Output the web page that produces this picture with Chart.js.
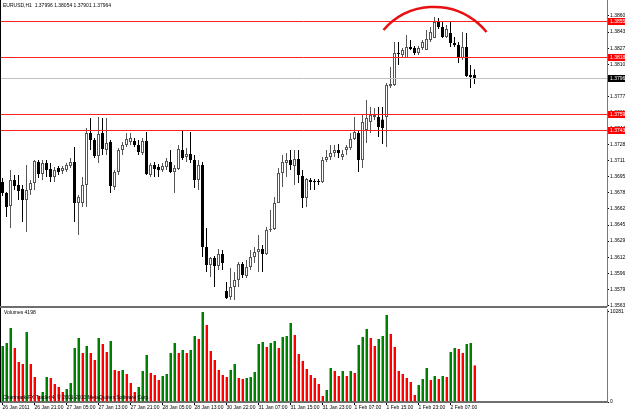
<!DOCTYPE html>
<html>
<head>
<meta charset="utf-8">
<script src="https://cdn.jsdelivr.net/npm/chart.js@4.4.1/dist/chart.umd.min.js"></script>
<style>
  html, body { margin: 0; padding: 0; background: #fff; }
  #wrap { position: relative; width: 625px; height: 412px; overflow: hidden; }
  #priceBox { position: absolute; left: 0; top: 0; }
  #volBox { position: absolute; left: 0; top: 308px; }
</style>
</head>
<body>
<div id="wrap">
  <div id="priceBox"><canvas id="priceChart" width="625" height="308"></canvas></div>
  <div id="volBox"><canvas id="volChart" width="625" height="104"></canvas></div>
</div>
<script>
// EURUSD H1 candles, 26 Jan 2011 - 2 Feb 2011
const open = [
  1.36897, 1.36784, 1.36650, 1.36917, 1.36866, 1.36825, 1.36712, 1.36815, 1.36886, 1.37102,
  1.36979, 1.37092, 1.37030, 1.36948, 1.37040, 1.37010, 1.37020, 1.37061, 1.37102, 1.36681,
  1.36681, 1.36866, 1.37399, 1.37328, 1.37163, 1.37399, 1.37225, 1.37307, 1.36845, 1.36999,
  1.37225, 1.37276, 1.37307, 1.37317, 1.37276, 1.37194, 1.37317, 1.36969, 1.37071, 1.37051,
  1.37020, 1.37051, 1.37102, 1.36999, 1.37030, 1.37225, 1.37153, 1.37184, 1.37122, 1.36917,
  1.37071, 1.36230, 1.36045, 1.36117, 1.36035, 1.36158, 1.35778, 1.35717, 1.35819, 1.35891,
  1.36055, 1.35932, 1.36025, 1.36127, 1.36178, 1.36209, 1.36158, 1.36404, 1.36414, 1.36681,
  1.36989, 1.37092, 1.37122, 1.37061, 1.37133, 1.36958, 1.36733, 1.36917, 1.36907, 1.36907,
  1.36897, 1.37122, 1.37153, 1.37194, 1.37225, 1.37153, 1.37225, 1.37246, 1.37338, 1.37399,
  1.37122, 1.37430, 1.37512, 1.37564, 1.37564, 1.37538, 1.37564, 1.37882, 1.37892, 1.38220,
  1.38200, 1.38169, 1.38282, 1.38272, 1.38220, 1.38272, 1.38251, 1.38354, 1.38374, 1.38538,
  1.38487, 1.38384, 1.38425, 1.38323, 1.38302, 1.38169, 1.38282, 1.37995, 1.37996
];
const high = [
  1.36938, 1.36794, 1.37020, 1.36969, 1.36969, 1.36866, 1.37071, 1.36917, 1.37122, 1.37122,
  1.37122, 1.37122, 1.37092, 1.37051, 1.37061, 1.37061, 1.37092, 1.37143, 1.37256, 1.36763,
  1.36948, 1.37451, 1.37553, 1.37348, 1.37564, 1.37553, 1.37553, 1.37328, 1.37020, 1.37246,
  1.37307, 1.37399, 1.37399, 1.37348, 1.37328, 1.37348, 1.37410, 1.37092, 1.37102, 1.37081,
  1.37092, 1.37143, 1.37225, 1.37071, 1.37276, 1.37430, 1.37246, 1.37410, 1.37174, 1.37122,
  1.37102, 1.36425, 1.36127, 1.36137, 1.36209, 1.36199, 1.35871, 1.36014, 1.35973, 1.36076,
  1.36076, 1.36096, 1.36199, 1.36230, 1.36353, 1.36250, 1.36435, 1.36609, 1.36743, 1.37040,
  1.37174, 1.37194, 1.37225, 1.37225, 1.37225, 1.37020, 1.36938, 1.36938, 1.36927, 1.36927,
  1.37153, 1.37225, 1.37276, 1.37276, 1.37287, 1.37225, 1.37276, 1.37399, 1.37564, 1.37430,
  1.37584, 1.37738, 1.37666, 1.37656, 1.37666, 1.37666, 1.37912, 1.38077, 1.38333, 1.38333,
  1.38272, 1.38405, 1.38354, 1.38292, 1.38292, 1.38354, 1.38456, 1.38487, 1.38590, 1.38579,
  1.38538, 1.38508, 1.38538, 1.38384, 1.38333, 1.38436, 1.38425, 1.38097, 1.38054
];
const low = [
  1.36753, 1.36538, 1.36425, 1.36815, 1.36712, 1.36486, 1.36384, 1.36763, 1.36815, 1.36938,
  1.36917, 1.36948, 1.36897, 1.36897, 1.36969, 1.36979, 1.36999, 1.37040, 1.36486, 1.36353,
  1.36640, 1.36640, 1.37225, 1.37143, 1.37092, 1.37174, 1.37174, 1.36784, 1.36815, 1.36969,
  1.37174, 1.37256, 1.37276, 1.37256, 1.37174, 1.37174, 1.36969, 1.36948, 1.36948, 1.36948,
  1.36999, 1.37020, 1.36989, 1.36784, 1.37020, 1.37122, 1.37102, 1.37092, 1.36835, 1.36815,
  1.36127, 1.35973, 1.35922, 1.35819, 1.35994, 1.35994, 1.35697, 1.35686, 1.35686, 1.35819,
  1.35912, 1.35912, 1.35994, 1.36066, 1.35973, 1.35973, 1.36148, 1.36384, 1.36404, 1.36681,
  1.36845, 1.36948, 1.37020, 1.36866, 1.36886, 1.36630, 1.36640, 1.36815, 1.36815, 1.36866,
  1.36886, 1.37102, 1.37122, 1.37153, 1.37143, 1.37122, 1.37174, 1.37225, 1.37328, 1.36999,
  1.37040, 1.37297, 1.37399, 1.37533, 1.37358, 1.37287, 1.37256, 1.37861, 1.37882, 1.38097,
  1.38169, 1.38169, 1.38251, 1.38200, 1.38200, 1.38251, 1.38251, 1.38333, 1.38374, 1.38466,
  1.38374, 1.38374, 1.38282, 1.38282, 1.38118, 1.38148, 1.37974, 1.37861, 1.37901
];
const close = [
  1.36784, 1.36640, 1.36917, 1.36856, 1.36804, 1.36712, 1.36815, 1.36886, 1.37112, 1.36979,
  1.37092, 1.37020, 1.36948, 1.37020, 1.36999, 1.37040, 1.37071, 1.37102, 1.36681, 1.36743,
  1.36866, 1.37399, 1.37328, 1.37163, 1.37389, 1.37235, 1.37297, 1.36856, 1.36999, 1.37225,
  1.37276, 1.37338, 1.37348, 1.37276, 1.37204, 1.37317, 1.36979, 1.37071, 1.37030, 1.37020,
  1.37061, 1.37112, 1.36999, 1.37040, 1.37235, 1.37143, 1.37184, 1.37122, 1.36917, 1.37071,
  1.36230, 1.36045, 1.36117, 1.36035, 1.36158, 1.36066, 1.35707, 1.35819, 1.35891, 1.36055,
  1.35943, 1.36025, 1.36127, 1.36178, 1.36209, 1.36158, 1.36404, 1.36414, 1.36681, 1.36989,
  1.37102, 1.37122, 1.37071, 1.37133, 1.36969, 1.36733, 1.36927, 1.36897, 1.36897, 1.36897,
  1.37122, 1.37153, 1.37194, 1.37225, 1.37194, 1.37184, 1.37256, 1.37338, 1.37410, 1.37122,
  1.37512, 1.37553, 1.37584, 1.37584, 1.37461, 1.37451, 1.37892, 1.37902, 1.38220, 1.38210,
  1.38251, 1.38282, 1.38261, 1.38220, 1.38272, 1.38333, 1.38364, 1.38436, 1.38538, 1.38487,
  1.38384, 1.38466, 1.38323, 1.38302, 1.38169, 1.38282, 1.37984, 1.37974, 1.37964
];
const volume = [
  6395, 6738, 8451, 6167, 4568, 4340, 7994, 4340, 2855, 685,
  1142, 2855, 2741, 2056, 1713, 1142, 1485, 2170, 6167, 7309,
  5596, 6395, 5596, 4796, 7309, 6624, 5710, 6966, 3654, 3540,
  3654, 3198, 2170, 1142, 1713, 3540, 5367, 3312, 3083, 2512,
  2969, 3198, 5596, 6738, 5596, 5938, 5596, 5938, 7537, 7195,
  10281, 8793, 5824, 4796, 3654, 3083, 2855, 3654, 4340, 2741,
  2627, 2741, 2855, 3426, 6624, 6852, 6281, 6738, 6966, 6167,
  7423, 7537, 9022, 7651, 5482, 4682, 3769, 3083, 2741, 2056,
  685, 1370, 3883, 3540, 2969, 3540, 2969, 3540, 3312, 6509,
  7423, 8337, 7309, 6395, 7195, 7537, 9935, 7766, 6281, 3540,
  3198, 2741, 2284, 799, 1941, 2627, 3883, 2512, 2969, 2627,
  2969, 2855, 5710, 6167, 6053, 5596, 6624, 6738, 4198
];

// time axis: bar index of each label
const xTickIdx = [0, 8, 16, 24, 32, 40, 48, 56, 64, 72, 80, 88, 96, 104, 112];
const xTickText = ['26 Jan 2011', '26 Jan 21:00', '27 Jan 05:00', '27 Jan 13:00', '27 Jan 21:00',
  '28 Jan 05:00', '28 Jan 13:00', '30 Jan 22:00', '31 Jan 07:00', '31 Jan 15:00',
  '31 Jan 23:00', '1 Feb 07:00', '1 Feb 15:00', '1 Feb 23:00', '2 Feb 07:00'];
const yTicks = [1.38600, 1.38435, 1.38270, 1.38105, 1.37940, 1.37775, 1.37610, 1.37445, 1.37280,
  1.37115, 1.36950, 1.36785, 1.36620, 1.36455, 1.36290, 1.36125, 1.35960, 1.35795, 1.35630];

// horizontal levels drawn on the chart
const levels = [1.38550, 1.38180, 1.37590, 1.37432];
const lastPrice = 1.37964;
// hand drawn arc over the top: [bar index, price]
const arcPts = [[95.25, 1.38456], [108.75, 1.38692], [121, 1.38436]];

const symbolTitle = 'EURUSD,H1  1.37996 1.38054 1.37901 1.37964';
const copyright = 'Chartmark-FX Trader 4, \u00a9 2001-2010 MetaQuotes Software Corp.';

const FONT = 'Liberation Sans';
const FS = 5;
const X_MIN = -0.625, X_MAX = 151.125;
const P_MIN = 1.35624, P_MAX = 1.38764;

const idx = open.map((_, i) => i);
const isBull = i => close[i] >= open[i];

Chart.defaults.font.family = FONT;
Chart.defaults.font.size = FS;

function leftFrame(chart) {
  const ctx = chart.ctx;
  ctx.save();
  ctx.fillStyle = '#000';
  ctx.fillRect(0, 0, 1, chart.chartArea.bottom);
  ctx.restore();
}

const priceOverlay = {
  id: 'priceOverlay',
  afterDraw(chart) {
    const ctx = chart.ctx;
    const xs = chart.scales.x, ys = chart.scales.y;
    const area = chart.chartArea;
    ctx.save();

    // current price line
    let y = Math.round(ys.getPixelForValue(lastPrice)) + 0.5;
    ctx.strokeStyle = '#c0c0c0';
    ctx.lineWidth = 1;
    ctx.beginPath(); ctx.moveTo(area.left, y); ctx.lineTo(area.right, y); ctx.stroke();

    // support / resistance lines
    ctx.strokeStyle = '#ff2020';
    levels.forEach(p => {
      const ly = Math.round(ys.getPixelForValue(p)) + 0.5;
      ctx.beginPath(); ctx.moveTo(area.left, ly); ctx.lineTo(area.right, ly); ctx.stroke();
    });

    // arc through three points
    const pts = arcPts.map(p => [xs.getPixelForValue(p[0]), ys.getPixelForValue(p[1])]);
    const [a, b, c] = pts;
    const d = 2 * (a[0] * (b[1] - c[1]) + b[0] * (c[1] - a[1]) + c[0] * (a[1] - b[1]));
    const sa = a[0] * a[0] + a[1] * a[1], sb = b[0] * b[0] + b[1] * b[1], sc = c[0] * c[0] + c[1] * c[1];
    const ux = (sa * (b[1] - c[1]) + sb * (c[1] - a[1]) + sc * (a[1] - b[1])) / d;
    const uy = (sa * (c[0] - b[0]) + sb * (a[0] - c[0]) + sc * (b[0] - a[0])) / d;
    const r = Math.hypot(a[0] - ux, a[1] - uy);
    ctx.strokeStyle = '#e81010';
    ctx.lineWidth = 2.5;
    ctx.beginPath();
    ctx.arc(ux, uy, r, Math.atan2(a[1] - uy, a[0] - ux), Math.atan2(c[1] - uy, c[0] - ux), false);
    ctx.stroke();

    // price labels on the axis
    ctx.font = FS + 'px "' + FONT + '"';
    ctx.textBaseline = 'middle';
    ctx.textAlign = 'left';
    levels.forEach(p => {
      const ly = Math.round(ys.getPixelForValue(p));
      ctx.fillStyle = '#ff0000';
      ctx.fillRect(area.right + 1, ly - 3, 18, 7);
      ctx.fillStyle = '#fff';
      ctx.fillText(p.toFixed(5), area.right + 3, ly + 0.5);
    });
    y = Math.round(ys.getPixelForValue(lastPrice));
    ctx.fillStyle = '#000';
    ctx.fillRect(area.right + 1, y - 3, 18, 7);
    ctx.fillStyle = '#fff';
    ctx.fillText(lastPrice.toFixed(5), area.right + 3, y + 0.5);

    // title
    ctx.fillStyle = '#000';
    ctx.fillText(symbolTitle, 3, 6);

    // pane separator
    ctx.fillStyle = '#6e6e6e';
    ctx.fillRect(0, area.bottom, area.right, 2);
    ctx.restore();
    leftFrame(chart);
  }
};

const volOverlay = {
  id: 'volOverlay',
  afterDraw(chart) {
    const ctx = chart.ctx;
    ctx.save();
    ctx.font = FS + 'px "' + FONT + '"';
    ctx.fillStyle = '#000';
    ctx.textBaseline = 'middle';
    ctx.fillText('Volumes ' + volume[volume.length - 1], 4, 5);
    ctx.fillText(copyright, 3, 90);
    ctx.restore();
    leftFrame(chart);
  }
};

// price pane
new Chart(document.getElementById('priceChart'), {
  type: 'bar',
  data: {
    datasets: [
      {
        label: 'body',
        data: idx.map(i => ({ x: i, y: [open[i], close[i]] })),
        backgroundColor: idx.map(i => isBull(i) ? '#ffffff' : '#000000'),
        borderColor: idx.map(i => isBull(i) ? '#555555' : '#000000'),
        borderWidth: 1,
        borderSkipped: false,
        barThickness: 3,
        minBarLength: 1,
        inflateAmount: 0,
        grouped: false,
        order: 0
      },
      {
        label: 'wick',
        data: idx.map(i => ({ x: i, y: [low[i], high[i]] })),
        backgroundColor: idx.map(i => isBull(i) ? '#555555' : '#000000'),
        barThickness: 1,
        inflateAmount: 0,
        grouped: false,
        order: 1
      }
    ]
  },
  options: {
    responsive: false,
    animation: false,
    events: [],
    layout: { padding: { top: 0, bottom: 2, left: 0, right: 0 } },
    plugins: { legend: { display: false }, tooltip: { enabled: false } },
    scales: {
      x: { type: 'linear', min: X_MIN, max: X_MAX, offset: false, display: false },
      y: {
        position: 'right',
        min: P_MIN,
        max: P_MAX,
        afterBuildTicks: s => { s.ticks = yTicks.map(v => ({ value: v })); },
        afterFit: s => { s.width = 18; s.paddingTop = 0; s.paddingBottom = 0; },
        grid: { drawOnChartArea: false, tickLength: 2, color: '#000' },
        border: { display: true, color: '#7a7a7a', width: 1 },
        ticks: { padding: 1, color: '#000', callback: v => v.toFixed(5) }
      }
    }
  },
  plugins: [priceOverlay]
});

// volume pane
const volMax = Math.max(...volume);
new Chart(document.getElementById('volChart'), {
  type: 'bar',
  data: {
    datasets: [{
      label: 'Volumes',
      data: idx.map(i => ({ x: i, y: volume[i] })),
      backgroundColor: idx.map(i => (i === 0 || volume[i] > volume[i - 1]) ? '#008000' : '#ff0000'),
      borderColor: idx.map(i => (i === 0 || volume[i] > volume[i - 1]) ? '#7fc07f' : '#ff9a9a'),
      borderWidth: { left: 1 },
      borderSkipped: false,
      barThickness: 3,
      inflateAmount: 0
    }]
  },
  options: {
    responsive: false,
    animation: false,
    events: [],
    layout: { padding: { top: 1, bottom: 0, left: 0, right: 0 } },
    plugins: { legend: { display: false }, tooltip: { enabled: false } },
    scales: {
      x: {
        type: 'linear',
        min: X_MIN,
        max: X_MAX,
        offset: false,
        position: 'bottom',
        afterBuildTicks: s => { s.ticks = xTickIdx.map(v => ({ value: v })); },
        afterFit: s => { s.height = 10; s.paddingLeft = 0; s.paddingRight = 0; },
        grid: { drawOnChartArea: false, offset: false, tickLength: 3, color: '#000' },
        border: { display: true, color: '#6e6e6e', width: 2 },
        ticks: {
          autoSkip: false, maxRotation: 0, align: 'start', padding: 0, color: '#000',
          callback: (v, i) => xTickText[i]
        }
      },
      y: {
        position: 'right',
        min: 0,
        max: volMax * 1.033,
        afterBuildTicks: s => { s.ticks = [{ value: volMax }, { value: 0 }]; },
        afterFit: s => { s.width = 18; s.paddingTop = 0; s.paddingBottom = 0; },
        grid: { drawOnChartArea: false, tickLength: 2, color: '#000' },
        border: { display: true, color: '#7a7a7a', width: 1 },
        ticks: { padding: 1, color: '#000', callback: v => String(v) }
      }
    }
  },
  plugins: [volOverlay]
});
</script>
</body>
</html>
